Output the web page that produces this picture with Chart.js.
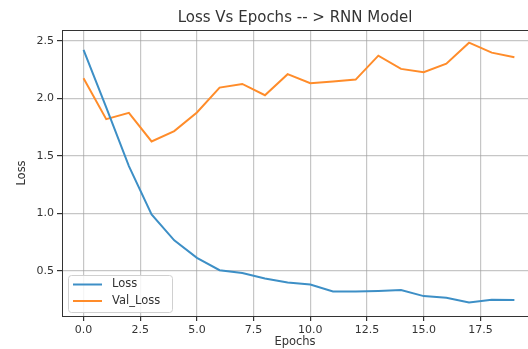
<!DOCTYPE html>
<html>
<head>
<meta charset="utf-8">
<script src="https://cdn.jsdelivr.net/npm/chart.js@4.4.1/dist/chart.umd.min.js"></script>
<style>
  html, body { margin: 0; padding: 0; background: #fff; }
  #wrap { width: 528px; height: 349px; }
</style>
</head>
<body>
<div id="wrap"><canvas id="chart" width="528" height="349"></canvas></div>
<script>
const epochs = [0, 1, 2, 3, 4, 5, 6, 7, 8, 9, 10, 11, 12, 13, 14, 15, 16, 17, 18, 19];
const loss = [2.42, 1.92, 1.41, 0.99, 0.765, 0.613, 0.505, 0.48, 0.433, 0.398, 0.38, 0.32, 0.32, 0.325, 0.333, 0.28, 0.266, 0.225, 0.248, 0.245];
const valLoss = [2.174, 1.818, 1.873, 1.624, 1.714, 1.876, 2.092, 2.124, 2.026, 2.209, 2.13, 2.145, 2.162, 2.37, 2.255, 2.226, 2.30, 2.483, 2.396, 2.356];
const xTicks = [0, 2.5, 5, 7.5, 10, 12.5, 15, 17.5];
const yTicks = [0.5, 1.0, 1.5, 2.0, 2.5];

const FONT = "'DejaVu Sans', sans-serif";
const TEXT = '#333';

function toPoints(values) {
    return epochs.map((e, i) => ({ x: e, y: values[i] }));
}

// top spine + legend box in lower left of the plot area
const extras = {
    id: 'extras',
    afterDraw(chart) {
        const ctx = chart.ctx;
        const area = chart.chartArea;
        ctx.save();
        ctx.strokeStyle = '#333';
        ctx.lineWidth = 1;
        ctx.beginPath();
        ctx.moveTo(area.left, area.top + 0.5);
        ctx.lineTo(area.right, area.top + 0.5);
        ctx.stroke();

        const bx = area.left + 6, by = 275, bw = 104, bh = 37;
        ctx.fillStyle = 'rgba(255,255,255,0.85)';
        ctx.strokeStyle = '#d0d0d0';
        ctx.beginPath();
        ctx.roundRect(bx + 0.5, by + 0.5, bw, bh, 3);
        ctx.fill();
        ctx.stroke();

        ctx.font = '11.5px ' + FONT;
        ctx.textBaseline = 'middle';
        chart.data.datasets.forEach((ds, i) => {
            const ly = by + 9.5 + i * 16.5;
            ctx.strokeStyle = ds.borderColor;
            ctx.lineWidth = 2;
            ctx.beginPath();
            ctx.moveTo(bx + 5, ly);
            ctx.lineTo(bx + 34, ly);
            ctx.stroke();
            ctx.fillStyle = TEXT;
            ctx.fillText(ds.label, bx + 44, ly);
        });
        ctx.restore();
    }
};

new Chart(document.getElementById('chart'), {
    type: 'line',
    data: {
        datasets: [
            {
                label: 'Loss',
                data: toPoints(loss),
                borderColor: '#3d8fc6',
                borderWidth: 2,
                pointRadius: 0,
                tension: 0
            },
            {
                label: 'Val_Loss',
                data: toPoints(valLoss),
                borderColor: '#ff8c2a',
                borderWidth: 2,
                pointRadius: 0,
                tension: 0
            }
        ]
    },
    options: {
        responsive: false,
        animation: false,
        layout: { padding: { left: 0, right: 0, top: 0, bottom: 0 } },
        plugins: {
            legend: { display: false },
            tooltip: { enabled: false },
            title: {
                display: true,
                text: 'Loss Vs Epochs -- > RNN Model',
                fullSize: false,
                color: TEXT,
                font: { family: FONT, size: 15, weight: 'normal' },
                padding: { top: 9, bottom: 3 }
            }
        },
        scales: {
            x: {
                type: 'linear',
                min: -0.95,
                max: 19.6,
                afterFit(scale) { scale.height = 33; },
                afterBuildTicks(scale) { scale.ticks = xTicks.map(v => ({ value: v })); },
                ticks: {
                    color: TEXT,
                    font: { family: FONT, size: 11 },
                    padding: 3,
                    maxRotation: 0,
                    callback: v => v.toFixed(1)
                },
                grid: { color: 'rgba(160,160,160,0.6)', lineWidth: 1.2, tickLength: 5, tickColor: '#333' },
                border: { display: true, color: '#333', width: 1 },
                title: {
                    display: true,
                    text: 'Epochs',
                    color: TEXT,
                    font: { family: FONT, size: 11.5 },
                    padding: { top: 0, bottom: 0 }
                }
            },
            y: {
                min: 0.107,
                max: 2.593,
                afterFit(scale) { scale.width = 62; },
                afterBuildTicks(scale) { scale.ticks = yTicks.map(v => ({ value: v })); },
                ticks: {
                    color: TEXT,
                    font: { family: FONT, size: 11 },
                    padding: 3,
                    callback: v => v.toFixed(1)
                },
                grid: { color: 'rgba(160,160,160,0.6)', lineWidth: 1.2, tickLength: 5, tickColor: '#333' },
                border: { display: true, color: '#333', width: 1 },
                title: {
                    display: true,
                    text: 'Loss',
                    color: TEXT,
                    font: { family: FONT, size: 11.5 },
                    padding: { top: 15, bottom: 0 }
                }
            }
        }
    },
    plugins: [extras]
});
</script>
</body>
</html>
